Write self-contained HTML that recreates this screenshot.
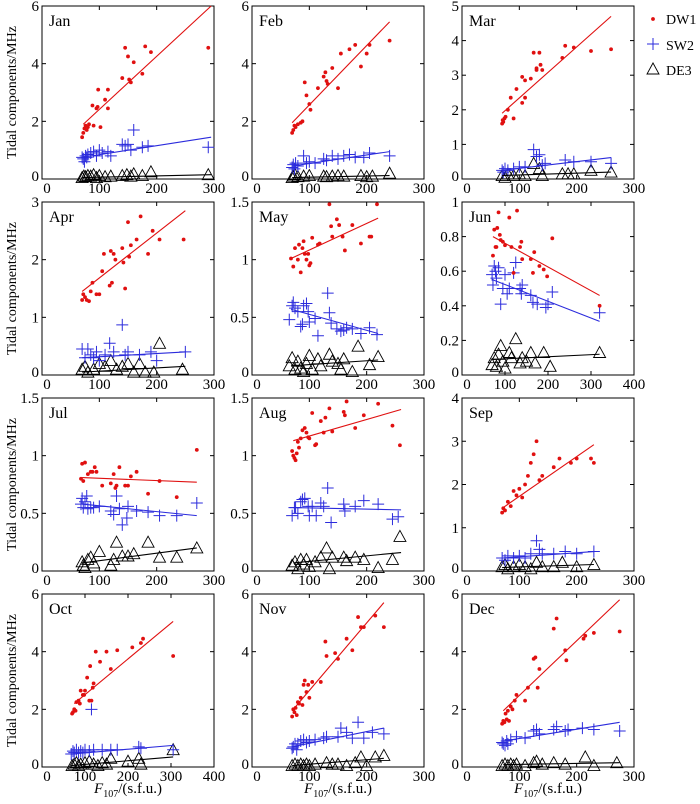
<!DOCTYPE html>
<html><head><meta charset="utf-8"><style>
body{margin:0;background:#fff}
svg{display:block;font-family:"Liberation Serif",serif}
</style></head><body>
<svg id="fig" width="700" height="804" viewBox="0 0 700 804" xmlns="http://www.w3.org/2000/svg"></svg>
<script>
const months=["Jan","Feb","Mar","Apr","May","Jun","Jul","Aug","Sep","Oct","Nov","Dec"];
const yMax=[6,6,5,3,1.5,1,1.5,1.5,4,6,6,6];
const yStep=[2,2,1,1,0.5,0.2,0.5,0.5,1,2,2,2];
const xMax=[300,300,300,300,300,400,300,300,300,400,300,300];
const dw1Jan=[[70,1.45],[72,1.6],[74,1.75],[76,1.85],[78,1.7],[80,1.8],[82,1.9],[88,2.55],[90,1.85],[95,2.45],[97,2.5],[98,3.1],[102,1.8],[110,2.75],[115,3.1],[115,2.45],[140,3.5],[145,4.55],[150,4.25],[152,3.45],[155,3.35],[160,4.05],[175,3.65],[180,4.6],[190,4.4],[290,4.55]];
const sw2Jan=[[70,0.75],[72,0.7],[74,0.6],[76,0.8],[78,0.75],[80,0.85],[85,0.9],[90,0.95],[95,0.8],[100,1.0],[105,0.9],[115,0.95],[120,0.8],[140,1.2],[145,1.15],[150,1.2],[160,1.7],[155,1.0],[175,1.1],[185,1.15],[290,1.1]];
const de3Jan=[[70,0.05],[73,0.1],[76,0.08],[80,0.12],[85,0.1],[90,0.15],[95,0.05],[100,0.12],[110,0.08],[120,0.1],[140,0.12],[148,0.15],[155,0.1],[160,0.18],[175,0.12],[190,0.25],[290,0.15]];
const dw1Feb=[[70,1.6],[72,1.7],[74,1.85],[76,1.8],[80,1.9],[85,1.95],[88,2.0],[92,3.35],[95,2.9],[100,2.6],[102,2.4],[115,3.15],[125,3.55],[128,3.7],[130,3.4],[132,3.3],[140,3.85],[150,3.15],[155,4.35],[170,4.5],[180,4.65],[190,3.9],[200,4.35],[205,4.65],[240,4.8]];
const sw2Feb=[[70,0.4],[72,0.5],[74,0.35],[76,0.55],[80,0.45],[90,0.8],[95,0.55],[100,0.6],[110,0.55],[125,0.7],[130,0.65],[140,0.8],[150,0.7],[160,0.8],[170,0.85],[180,0.75],[195,0.75],[205,0.9],[240,0.8]];
const de3Feb=[[70,0.05],[72,0.1],[75,0.15],[80,0.08],[90,0.1],[100,0.12],[125,0.1],[130,0.08],[140,0.1],[150,0.12],[160,0.1],[190,0.12],[200,0.08],[210,0.1],[240,0.2]];
const dw1Mar=[[70,1.6],[71,1.7],[72,1.65],[74,1.75],[76,1.8],[80,2.0],[85,2.35],[90,1.75],[95,2.6],[105,2.2],[105,2.95],[110,2.35],[110,2.85],[120,2.9],[125,3.65],[130,3.15],[130,3.2],[135,3.65],[137,3.3],[140,3.15],[175,3.5],[180,3.85],[195,3.8],[225,3.7],[260,3.75]];
const sw2Mar=[[70,0.25],[72,0.2],[75,0.3],[80,0.25],[90,0.3],[100,0.35],[110,0.35],[125,0.85],[130,0.65],[135,0.7],[140,0.4],[145,0.45],[180,0.55],[195,0.5],[225,0.5],[260,0.45]];
const de3Mar=[[70,0.1],[75,0.05],[80,0.15],[90,0.1],[100,0.15],[110,0.1],[125,0.45],[135,0.3],[140,0.1],[175,0.15],[185,0.15],[195,0.15],[225,0.25],[260,0.2]];
const dw1Apr=[[70,1.3],[72,1.4],[75,1.35],[78,1.3],[82,1.28],[85,1.45],[88,1.6],[95,1.4],[100,1.4],[105,1.8],[108,2.1],[118,1.55],[120,2.15],[122,1.6],[125,2.1],[128,2.0],[140,2.2],[142,1.95],[145,1.5],[150,2.65],[152,2.05],[155,2.25],[165,2.35],[172,2.75],[185,2.1],[193,2.5],[205,2.35],[247,2.35]];
const sw2Apr=[[70,0.45],[75,0.3],[80,0.45],[85,0.35],[90,0.3],[95,0.4],[100,0.25],[110,0.35],[118,0.55],[125,0.4],[140,0.87],[145,0.35],[150,0.4],[170,0.35],[190,0.4],[200,0.25],[250,0.4]];
const de3Apr=[[70,0.1],[75,0.15],[80,0.05],[90,0.1],[100,0.2],[110,0.15],[120,0.25],[130,0.1],[140,0.15],[150,0.2],[160,0.05],[170,0.2],[180,0.05],[195,0.05],[205,0.55],[245,0.1]];
const dw1May=[[68,1.01],[72,0.94],[75,1.1],[80,1.0],[82,1.13],[85,0.89],[88,1.1],[90,1.16],[92,1.05],[95,1.0],[98,1.05],[100,0.95],[102,0.97],[105,1.19],[115,1.13],[118,1.14],[135,1.48],[138,1.29],[140,1.2],[148,1.35],[152,1.3],[158,1.2],[162,1.08],[175,1.3],[190,1.14],[205,1.2],[208,1.2],[218,1.48]];
const sw2May=[[65,0.48],[70,0.6],[72,0.63],[75,0.58],[80,0.55],[85,0.42],[88,0.44],[90,0.6],[95,0.62],[98,0.55],[100,0.46],[110,0.49],[115,0.34],[132,0.71],[135,0.54],[138,0.45],[148,0.4],[155,0.38],[160,0.39],[165,0.41],[175,0.4],[190,0.36],[205,0.41],[218,0.35]];
const de3May=[[65,0.08],[70,0.15],[75,0.05],[80,0.12],[85,0.06],[90,0.03],[95,0.1],[100,0.17],[105,0.05],[115,0.14],[120,0.08],[135,0.18],[140,0.12],[150,0.1],[155,0.05],[160,0.14],[175,0.03],[185,0.25],[205,0.09],[220,0.16]];
const dw1Jun=[[72,0.69],[75,0.84],[78,0.74],[80,0.74],[82,0.85],[85,0.94],[88,0.81],[90,0.78],[95,0.77],[100,0.75],[110,0.91],[115,0.74],[120,0.59],[128,0.95],[135,0.74],[138,0.77],[140,0.67],[160,0.67],[165,0.59],[168,0.71],[180,0.63],[190,0.61],[198,0.57],[210,0.79],[320,0.4]];
const sw2Jun=[[70,0.58],[72,0.52],[75,0.63],[78,0.6],[80,0.56],[85,0.62],[90,0.41],[95,0.5],[100,0.58],[105,0.47],[110,0.5],[120,0.59],[125,0.65],[135,0.5],[138,0.47],[140,0.52],[160,0.46],[165,0.42],[175,0.41],[195,0.39],[200,0.41],[210,0.48],[320,0.36]];
const de3Jun=[[70,0.06],[75,0.1],[80,0.05],[85,0.12],[90,0.17],[95,0.08],[100,0.04],[110,0.13],[115,0.1],[125,0.21],[135,0.07],[140,0.1],[150,0.08],[160,0.13],[170,0.07],[190,0.13],[205,0.05],[320,0.13]];
const dw1Jul=[[68,0.8],[70,0.93],[72,0.78],[75,0.94],[80,0.84],[85,0.86],[88,0.86],[92,0.9],[95,0.86],[105,0.74],[120,0.76],[125,0.84],[128,0.72],[130,0.74],[135,0.9],[145,0.74],[150,0.74],[155,0.82],[165,0.86],[185,0.67],[205,0.78],[235,0.64],[270,1.05]];
const sw2Jul=[[68,0.58],[70,0.63],[72,0.55],[75,0.6],[78,0.65],[80,0.54],[85,0.55],[90,0.55],[100,0.56],[120,0.52],[125,0.49],[130,0.65],[135,0.54],[140,0.4],[148,0.46],[150,0.56],[165,0.52],[185,0.51],[205,0.48],[235,0.48],[270,0.59]];
const de3Jul=[[70,0.08],[72,0.05],[75,0.03],[80,0.1],[85,0.12],[90,0.07],[100,0.17],[120,0.05],[125,0.1],[130,0.25],[140,0.13],[150,0.13],[160,0.15],[185,0.25],[205,0.12],[235,0.12],[270,0.2]];
const dw1Aug=[[70,1.04],[72,1.0],[74,0.98],[76,0.96],[78,1.02],[80,1.12],[82,1.07],[85,1.15],[88,1.22],[92,1.24],[95,1.2],[98,1.16],[100,1.15],[105,1.37],[110,1.09],[112,1.1],[120,1.3],[125,1.2],[128,1.33],[135,1.41],[140,1.21],[160,1.38],[165,1.47],[162,1.35],[180,1.24],[195,1.35],[220,1.45],[245,1.26],[258,1.09]];
const sw2Aug=[[70,0.48],[74,0.55],[76,0.55],[80,0.5],[85,0.6],[88,0.62],[92,0.63],[98,0.56],[100,0.48],[105,0.56],[112,0.48],[120,0.59],[125,0.56],[132,0.72],[138,0.42],[160,0.58],[162,0.52],[180,0.56],[195,0.61],[220,0.58],[245,0.45],[255,0.47]];
const de3Aug=[[70,0.05],[75,0.08],[80,0.02],[85,0.1],[90,0.06],[95,0.1],[100,0.04],[110,0.08],[120,0.12],[130,0.2],[135,0.02],[140,0.12],[160,0.12],[165,0.09],[180,0.12],[195,0.1],[220,0.03],[245,0.1],[258,0.3]];
const dw1Sep=[[70,1.35],[72,1.45],[75,1.4],[80,1.6],[85,1.5],[90,1.85],[95,1.75],[100,1.9],[105,1.7],[110,2.0],[115,2.2],[120,2.5],[125,2.7],[130,3.0],[135,2.1],[140,2.2],[160,2.4],[170,2.6],[190,2.5],[200,2.6],[225,2.6],[230,2.5]];
const sw2Sep=[[70,0.3],[75,0.25],[80,0.35],[90,0.3],[100,0.35],[110,0.3],[120,0.4],[130,0.7],[135,0.5],[140,0.4],[160,0.4],[180,0.45],[200,0.4],[230,0.45]];
const de3Sep=[[70,0.1],[75,0.15],[80,0.05],[90,0.1],[100,0.15],[110,0.1],[120,0.05],[130,0.2],[140,0.1],[160,0.1],[175,0.2],[200,0.1],[230,0.15]];
const dw1Oct=[[70,1.85],[72,1.9],[75,2.0],[78,1.95],[80,2.25],[85,2.3],[88,2.2],[90,2.65],[95,2.5],[98,2.5],[100,2.65],[105,3.1],[110,2.3],[112,3.5],[115,2.3],[118,2.75],[120,2.9],[125,4.0],[135,3.65],[150,4.0],[160,3.4],[175,4.05],[210,4.15],[230,4.3],[235,4.45],[305,3.85]];
const sw2Oct=[[68,0.45],[72,0.55],[75,0.5],[80,0.6],[85,0.5],[90,0.55],[95,0.5],[100,0.6],[110,0.55],[115,2.0],[120,0.6],[140,0.6],[160,0.6],[175,0.6],[225,0.7],[230,0.65],[305,0.6]];
const de3Oct=[[70,0.05],[75,0.1],[80,0.15],[85,0.05],[90,0.1],[100,0.15],[110,0.2],[120,0.1],[130,0.05],[140,0.15],[150,0.1],[160,0.3],[200,0.2],[225,0.3],[230,0.1],[305,0.6]];
const dw1Nov=[[70,1.75],[72,2.0],[74,1.9],[76,2.05],[78,1.8],[80,2.25],[82,2.2],[85,2.4],[88,2.15],[90,2.85],[92,3.0],[95,2.6],[98,2.85],[100,2.4],[105,2.95],[120,2.95],[128,4.35],[130,3.85],[145,3.95],[150,3.75],[165,4.45],[175,4.05],[185,5.2],[190,4.85],[195,4.85],[215,5.25],[230,4.85]];
const sw2Nov=[[70,0.65],[72,0.7],[75,0.8],[78,0.6],[80,0.8],[85,0.9],[90,0.95],[95,0.85],[100,0.9],[110,0.95],[125,1.0],[130,1.05],[150,1.05],[155,1.35],[165,1.2],[175,1.0],[185,1.55],[195,1.0],[210,1.2],[230,1.15]];
const de3Nov=[[70,0.05],[75,0.1],[80,0.05],[85,0.1],[90,0.05],[95,0.1],[100,0.05],[110,0.1],[130,0.15],[140,0.1],[150,0.1],[165,0.05],[180,0.15],[190,0.35],[200,0.05],[215,0.35],[230,0.4]];
const dw1Dec=[[70,1.5],[72,1.6],[74,1.55],[76,1.85],[78,1.65],[80,1.95],[82,1.6],[85,2.1],[88,2.0],[92,2.3],[95,2.5],[110,2.3],[115,2.75],[125,3.75],[128,3.8],[132,2.75],[135,3.4],[160,4.8],[165,5.15],[180,4.05],[182,3.7],[212,4.45],[215,4.55],[230,4.65],[275,4.7]];
const sw2Dec=[[70,0.85],[72,0.8],[75,0.75],[78,0.9],[80,0.8],[85,0.95],[95,1.05],[110,1.0],[125,1.25],[130,1.3],[135,1.15],[160,1.3],[165,1.4],[180,1.25],[185,1.3],[210,1.35],[230,1.3],[275,1.25]];
const de3Dec=[[70,0.05],[75,0.1],[80,0.05],[85,0.1],[90,0.05],[95,0.1],[110,0.05],[125,0.15],[130,0.2],[140,0.1],[160,0.15],[180,0.1],[215,0.35],[230,0.05],[270,0.15]];
const dw1Data=[dw1Jan,dw1Feb,dw1Mar,dw1Apr,dw1May,dw1Jun,dw1Jul,dw1Aug,dw1Sep,dw1Oct,dw1Nov,dw1Dec];
const sw2Data=[sw2Jan,sw2Feb,sw2Mar,sw2Apr,sw2May,sw2Jun,sw2Jul,sw2Aug,sw2Sep,sw2Oct,sw2Nov,sw2Dec];
const de3Data=[de3Jan,de3Feb,de3Mar,de3Apr,de3May,de3Jun,de3Jul,de3Aug,de3Sep,de3Oct,de3Nov,de3Dec];
// fit lines [x0,y0,x1,y1]
const dw1Fit=[[72,1.9,295,6.0],[70,1.95,240,5.45],[70,1.9,260,4.7],[70,1.45,250,2.85],[68,1.01,220,1.36],[72,0.8,320,0.46],[70,0.81,270,0.77],[72,1.13,260,1.4],[70,1.45,230,2.92],[75,2.2,305,5.05],[70,1.95,230,5.7],[72,1.95,275,5.8]];
const sw2Fit=[[70,0.75,295,1.45],[70,0.45,240,0.95],[70,0.25,260,0.62],[70,0.3,250,0.4],[68,0.57,220,0.36],[72,0.55,320,0.31],[70,0.58,270,0.48],[72,0.55,260,0.53],[70,0.3,230,0.45],[68,0.45,305,0.75],[70,0.7,230,1.35],[72,0.9,275,1.55]];
const de3Fit=[[70,0.05,295,0.15],[70,0.05,240,0.12],[70,0.1,260,0.2],[70,0.05,250,0.15],[68,0.08,220,0.13],[72,0.09,320,0.12],[70,0.07,270,0.2],[72,0.07,260,0.16],[70,0.08,230,0.15],[68,0.05,305,0.35],[70,0.05,230,0.3],[72,0.08,275,0.15]];

const NS="http://www.w3.org/2000/svg";
const svg=document.getElementById('fig');
const colX=[42,252,462], rowY=[6,202,398,594], PW=172, PH=173;
function mk(tag,attrs,parent){const e=document.createElementNS(NS,tag);for(const k in attrs)e.setAttribute(k,attrs[k]);(parent||svg).appendChild(e);return e;}
function fmt(v){return (Math.round(v*10)/10).toString();}

for(let i=0;i<12;i++){
  const px=colX[i%3], py=rowY[Math.floor(i/3)];
  const g=mk('g',{});
  
  
  const sx=v=>px+v/xMax[i]*PW, sy=v=>py+PH-v/yMax[i]*PH;
  const frame=mk('rect',{x:px,y:py,width:PW,height:PH,fill:'none',stroke:'#000','stroke-width':1},g);
  
  
  const ny=Math.round(yMax[i]/yStep[i]);
  for(let k=0;k<=ny;k++){
    const v=k*yStep[i], y=sy(v);
    mk('line',{x1:px,y1:y,x2:px+4,y2:y,stroke:'#000'},g);
    mk('line',{x1:px+PW,y1:y,x2:px+PW-4,y2:y,stroke:'#000'},g);
    const t=mk('text',{x:px-3,y:y+(k==0?2:5),'text-anchor':'end','font-size':15},g);
    t.textContent=fmt(v);
    
    
  }
  for(let k=0;k<=xMax[i];k+=100){
    const x=sx(k);
    mk('line',{x1:x,y1:py+PH,x2:x,y2:py+PH-4,stroke:'#000'},g);
    mk('line',{x1:x,y1:py,x2:x,y2:py+4,stroke:'#000'},g);
    const t=mk('text',{x:k==0?x+5:x,y:py+PH+14,'text-anchor':'middle','font-size':15},g);
    t.textContent=k;
    
    
  }
  const mt=mk('text',{x:px+7,y:py+20,'font-size':16},g);
  mt.textContent=months[i];
  
  
  de3Data[i].forEach(p=>{const x=sx(p[0]),y=sy(p[1]);
    const tr=mk('path',{d:`M${x-6},${y+5}L${x+6},${y+5}L${x},${y-6}Z`,fill:'none',stroke:'#000','stroke-width':0.9},g);
    
    });
  sw2Data[i].forEach(p=>{const x=sx(p[0]),y=sy(p[1]);
    const pl=mk('path',{d:`M${x-6},${y}H${x+6}M${x},${y-6}V${y+6}`,stroke:'#2b2bdc','stroke-width':1},g);
    
    });
  dw1Data[i].forEach(p=>{
    const c=mk('circle',{cx:sx(p[0]),cy:sy(p[1]),r:1.9,fill:'#e01010'},g);
    
    });
  [[de3Fit,'#000','de3-fit-line'],[sw2Fit,'#2b2bdc','sw2-fit-line'],[dw1Fit,'#e01010','dw1-fit-line']].forEach(([f,col,nm])=>{
    const a=f[i];
    const l=mk('line',{x1:sx(a[0]),y1:sy(a[1]),x2:sx(a[2]),y2:sy(a[3]),stroke:col,'stroke-width':1.1},g);
    
    
  });
}
rowY.forEach(y=>{
  const t=mk('text',{x:0,y:0,transform:`translate(16,${y+PH/2}) rotate(-90)`,'text-anchor':'middle','font-size':14});
  t.textContent='Tidal components/MHz';
  
  
});
colX.forEach(x=>{
  const t=mk('text',{x:x+PW/2,y:793,'text-anchor':'middle','font-size':15});
  t.innerHTML='<tspan font-style="italic">F</tspan><tspan font-size="10" dy="4">107</tspan><tspan dy="-4">/(s.f.u.)</tspan>';
  
  
});
const lg=mk('g',{});


mk('circle',{cx:653,cy:19,r:1.9,fill:'#e01010'},lg);
mk('path',{d:'M647,44H659M653,38V50',stroke:'#2b2bdc','stroke-width':1},lg);
mk('path',{d:'M647,74L659,74L653,63Z',fill:'none',stroke:'#000','stroke-width':0.9},lg);
[['DW1',24],['SW2',50],['DE3',75]].forEach(([s,y])=>{
  const t=mk('text',{x:666,y:y,'font-size':14},lg);t.textContent=s;
  
  
});
</script>
</body></html>
